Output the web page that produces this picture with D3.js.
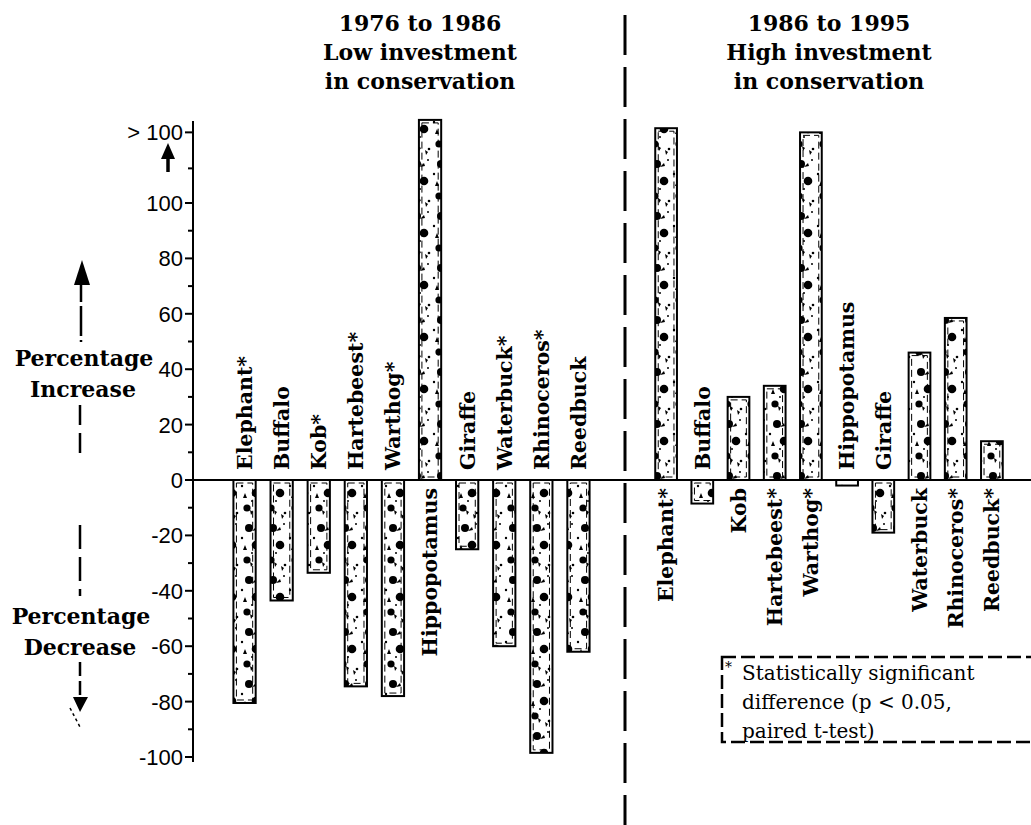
<!DOCTYPE html>
<html>
<head>
<meta charset="utf-8">
<script src="https://cdn.jsdelivr.net/npm/d3@7"></script>
<style>
  html, body { margin: 0; padding: 0; background: #fff; }
  svg { display: block; }
</style>
</head>
<body>
<svg id="chart" width="1031" height="825"></svg>
<script>
// ---- data (bars above 100 are the ">100" cases) ----
const leftSpecies  = ["Elephant*", "Buffalo", "Kob*", "Hartebeest*", "Warthog*", "Hippopotamus", "Giraffe", "Waterbuck*", "Rhinoceros*", "Reedbuck"];
const leftValues   = [-80.5, -43.5, -33.5, -74.5, -78, 130, -25, -60, -98.5, -62];
const rightSpecies = ["Elephant*", "Buffalo", "Kob", "Hartebeest*", "Warthog*", "Hippopotamus", "Giraffe", "Waterbuck", "Rhinoceros*", "Reedbuck*"];
const rightValues  = [127, -8.5, 30, 34, 125.5, -2, -19, 46, 58.5, 14];
const majorTicks   = [-100, -80, -60, -40, -20, 0, 20, 40, 60, 80, 100];
const minorTicks   = [-90, -70, -50, -30, -10, 10, 30, 50, 70, 90, 112.5];
const overTick     = 125.5;
const overLabel    = "> 100";
const leftTitle    = ["1976 to 1986", "Low investment", "in conservation"];
const rightTitle   = ["1986 to 1995", "High investment", "in conservation"];
const noteLines    = ["Statistically significant", "difference (p < 0.05,", "paired t-test)"];

const svg = d3.select("#chart");
const W = 1031, H = 825;
svg.append("rect").attr("width", W).attr("height", H).attr("fill", "#fff");

// pattern of black blobs
const defs = svg.append("defs");
const pat = defs.append("pattern").attr("id", "blobs")
  .attr("patternUnits", "userSpaceOnUse").attr("width", 24).attr("height", 52);
pat.append("rect").attr("width", 24).attr("height", 52).attr("fill", "#fff");
[[9,8,4],[16,25,4.3],[7,40,3.6],[2,18,1.2],[20,4,1],[12,33,1],[21,45,1.3]]
  .forEach(([cx, cy, r]) => pat.append("circle").attr("cx", cx).attr("cy", cy).attr("r", r).attr("fill", "#000"));
pat.append("path").attr("d", "M12,11 l4,-4 l1,3 z M5,25 l2,5 l-4,0 z M17,46 l3,2 l-2,3 z M10,42 l3,2 l-2,3 z").attr("fill", "#000");

// scales
const y = d3.scaleLinear().domain([-100, 100]).range([757, 203]);
const xL = d3.scaleBand().domain(leftSpecies.map((d, i) => i)).range([226, 597]).paddingInner(0.4).paddingOuter(0.2);
const xR = d3.scaleBand().domain(rightSpecies.map((d, i) => i)).range([648, 1010]).paddingInner(0.4).paddingOuter(0.2);

const serifB = "'DejaVu Serif', serif";

// y axis
const axX = 193;
const axis = svg.append("g").attr("transform", `translate(${axX},0)`);
axis.append("line").attr("y1", 121).attr("y2", 762).attr("stroke", "#000").attr("stroke-width", 2);
const allMajor = majorTicks.concat([overTick]);
axis.selectAll("line.maj").data(allMajor).join("line").attr("class", "maj")
  .attr("x1", -8).attr("x2", 0).attr("y1", d => y(d)).attr("y2", d => y(d))
  .attr("stroke", "#000").attr("stroke-width", 2);
axis.selectAll("line.min").data(minorTicks).join("line").attr("class", "min")
  .attr("x1", -5).attr("x2", 0).attr("y1", d => y(d)).attr("y2", d => y(d))
  .attr("stroke", "#000").attr("stroke-width", 2);
axis.selectAll("text.tl").data(majorTicks).join("text").attr("class", "tl")
  .attr("x", -10).attr("y", d => y(d)).attr("dy", "0.36em").attr("text-anchor", "end")
  .attr("font-family", "'Liberation Sans', Arial, sans-serif").attr("font-size", 22)
  .text(d => d);
axis.append("text").attr("x", -10).attr("y", y(overTick)).attr("dy", "0.36em").attr("text-anchor", "end")
  .attr("font-family", "'Liberation Sans', Arial, sans-serif").attr("font-size", 22).text(overLabel);
// small arrow between >100 and 100
axis.append("path").attr("d", `M-25,${y(113)+5} L-25,${y(113)-10}`).attr("stroke", "#000").attr("stroke-width", 3.5);
axis.append("path").attr("d", `M-32,${y(113)-8} L-25,${y(113)-24} L-18,${y(113)-8} Z`).attr("fill", "#000");

// zero line
svg.append("line").attr("x1", axX).attr("x2", W).attr("y1", y(0)).attr("y2", y(0))
  .attr("stroke", "#000").attr("stroke-width", 2);

// bars
function drawPanel(species, values, x) {
  const g = svg.append("g");
  const data = species.map((s, i) => ({ s, v: values[i], i }));
  g.selectAll("rect.bar").data(data).join("rect").attr("class", "bar")
    .attr("x", d => x(d.i)).attr("width", x.bandwidth())
    .attr("y", d => Math.min(y(0), y(d.v)))
    .attr("height", d => Math.max(Math.abs(y(d.v) - y(0)), 4))
    .attr("fill", "url(#blobs)").attr("stroke", "#000").attr("stroke-width", 2);
  g.selectAll("rect.inner").data(data.filter(d => Math.abs(y(d.v) - y(0)) > 10)).join("rect").attr("class", "inner")
    .attr("x", d => x(d.i) + 3).attr("width", x.bandwidth() - 6)
    .attr("y", d => Math.min(y(0), y(d.v)) + 3)
    .attr("height", d => Math.abs(y(d.v) - y(0)) - 6)
    .attr("fill", "none").attr("stroke", "#000").attr("stroke-width", 1).attr("stroke-dasharray", "7,4");
  g.selectAll("text.lab").data(data).join("text").attr("class", "lab")
    .attr("transform", d => {
      const cx = x(d.i) + x.bandwidth() / 2;
      const yy = d.v < 0 ? y(0) - 10 : y(0) + 8;
      return `translate(${cx},${yy}) rotate(-90)`;
    })
    .attr("text-anchor", d => d.v < 0 ? "start" : "end")
    .attr("dy", "0.36em")
    .attr("font-family", serifB).attr("font-weight", "bold").attr("font-size", 20.5)
    .text(d => d.s);
}
drawPanel(leftSpecies, leftValues, xL);
drawPanel(rightSpecies, rightValues, xR);

// titles
function title(lines, cx) {
  svg.append("text").attr("x", cx).attr("y", 31).attr("text-anchor", "middle")
    .attr("font-family", serifB).attr("font-weight", "bold").attr("font-size", 22)
    .selectAll("tspan").data(lines).join("tspan")
    .attr("x", cx).attr("dy", (d, i) => i === 0 ? 0 : 29).text(d => d);
}
title(leftTitle, 420);
title(rightTitle, 829);

// divider
svg.append("line").attr("x1", 625).attr("x2", 625).attr("y1", 15).attr("y2", 825)
  .attr("stroke", "#000").attr("stroke-width", 3).attr("stroke-dasharray", "40,12");

// side labels with arrows
const side = svg.append("g").attr("font-family", serifB).attr("font-weight", "bold").attr("font-size", 22).attr("text-anchor", "middle");
side.append("text").attr("x", 84).attr("y", 366).text("Percentage");
side.append("text").attr("x", 83).attr("y", 397).text("Increase");
side.append("text").attr("x", 81).attr("y", 624).text("Percentage");
side.append("text").attr("x", 80).attr("y", 655).text("Decrease");
const arr = svg.append("g").attr("stroke", "#000").attr("stroke-width", 2.5);
arr.append("line").attr("x1", 81).attr("x2", 81).attr("y1", 272).attr("y2", 342).attr("stroke-dasharray", "30,4");
arr.append("line").attr("x1", 80).attr("x2", 80).attr("y1", 405).attr("y2", 458).attr("stroke-dasharray", "20,8");
arr.append("line").attr("x1", 80).attr("x2", 80).attr("y1", 525).attr("y2", 596).attr("stroke-dasharray", "24,8");
arr.append("line").attr("x1", 80).attr("x2", 80).attr("y1", 662).attr("y2", 700).attr("stroke-dasharray", "14,5");
svg.append("path").attr("d", "M74,285 L82,260 L90,285 Z").attr("fill", "#000");
svg.append("path").attr("d", "M73,697 L80,712 L88,697 Z").attr("fill", "#000");
svg.append("line").attr("x1", 70).attr("x2", 80).attr("y1", 708).attr("y2", 727)
  .attr("stroke", "#000").attr("stroke-width", 1.5).attr("stroke-dasharray", "3,3");

// legend note
const note = svg.append("g");
note.append("rect").attr("x", 722).attr("y", 657).attr("width", 330).attr("height", 85)
  .attr("fill", "none").attr("stroke", "#000").attr("stroke-width", 2.5).attr("stroke-dasharray", "14,5");
note.append("text").attr("x", 725).attr("y", 672).attr("font-family", serifB).attr("font-size", 14).text("*");
note.append("text").attr("x", 742).attr("y", 680).attr("font-family", serifB).attr("font-size", 20)
  .selectAll("tspan").data(noteLines).join("tspan")
  .attr("x", 742).attr("dy", (d, i) => i === 0 ? 0 : 29).text(d => d);
</script>
</body>
</html>
